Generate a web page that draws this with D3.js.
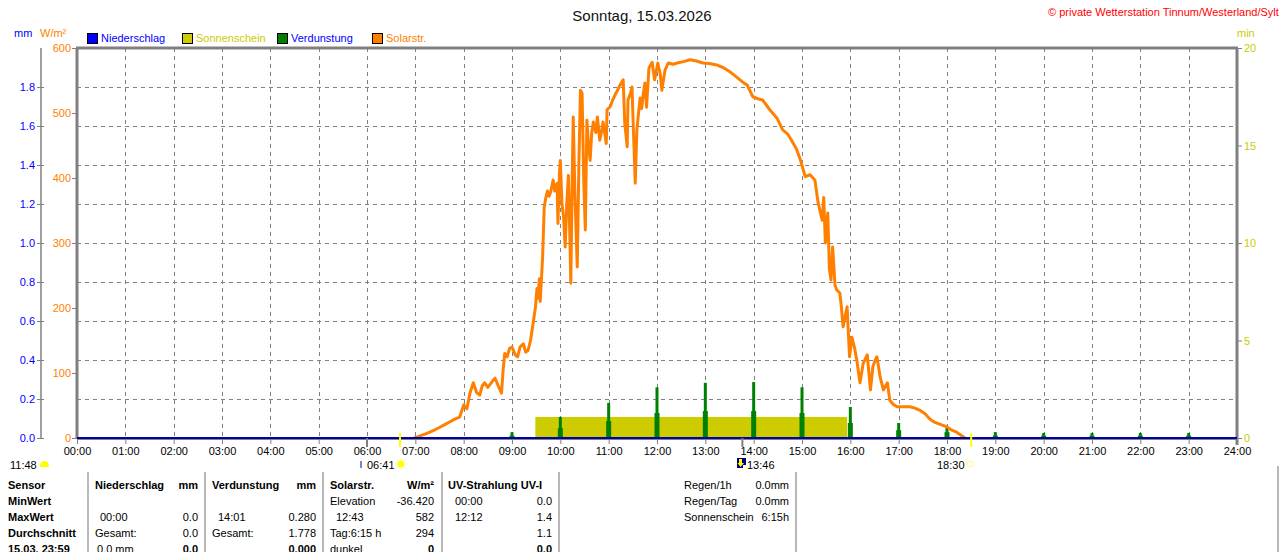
<!DOCTYPE html>
<html><head><meta charset="utf-8">
<script src="https://cdn.jsdelivr.net/npm/d3@7/dist/d3.min.js"></script>
<style>
body{margin:0;background:#fff;overflow:hidden}
svg{display:block}
text{font-family:"Liberation Sans",Arial,sans-serif;font-size:11px}
</style></head>
<body><svg id="c" width="1280" height="552"></svg>
<script>
// ---------- data ----------
const hourLabels = ["00:00","01:00","02:00","03:00","04:00","05:00","06:00","07:00","08:00","09:00","10:00","11:00","12:00","13:00","14:00","15:00","16:00","17:00","18:00","19:00","20:00","21:00","22:00","23:00","24:00"];
const mmTicks = [0,0.2,0.4,0.6,0.8,1.0,1.2,1.4,1.6,1.8];
const wTicks = [0,100,200,300,400,500,600];
const minTicks = [0,5,10,15,20];

const solarTimes = ["06:59","07:05","07:12","07:18","07:25","07:31","07:37","07:43","07:49","07:55","08:00","08:04","08:08","08:12","08:16","08:20","08:23","08:26","08:30","08:33","08:36","08:39","08:43","08:47","08:49","08:51","08:54","08:57","09:00","09:04","09:07","09:10","09:14","09:17","09:20","09:23","09:26","09:29","09:31","09:32","09:34","09:35","09:38","09:40","09:42","09:44","09:46","09:48","09:51","09:53","09:56","09:57","09:59","10:00","10:02","10:04","10:06","10:08","10:10","10:12","10:13","10:15","10:16","10:18","10:21","10:23","10:25","10:27","10:29","10:31","10:33","10:35","10:37","10:39","10:41","10:44","10:46","10:49","10:51","10:53","10:55","10:57","10:58","11:02","11:05","11:08","11:11","11:15","11:18","11:20","11:23","11:24","11:27","11:29","11:30","11:33","11:35","11:39","11:41","11:43","11:45","11:47","11:50","11:54","11:57","12:01","12:04","12:06","12:10","12:14","12:20","12:25","12:33","12:41","12:49","12:57","13:05","13:14","13:22","13:31","13:37","13:43","13:48","13:52","13:59","14:05","14:11","14:20","14:29","14:36","14:42","14:47","14:53","14:58","15:04","15:10","15:16","15:20","15:25","15:27","15:29","15:32","15:34","15:36","15:38","15:41","15:43","15:47","15:49","15:51","15:56","15:59","16:02","16:05","16:08","16:12","16:16","16:21","16:25","16:28","16:31","16:33","16:37","16:41","16:46","16:49","16:53","16:58","17:06","17:14","17:20","17:26","17:33","17:39","17:45","18:00","18:06","18:12","18:20","18:22"];
const solarValues = [0,3,6,9,13,17,21,25,29,32,51,45,70,85,70,66,80,85,78,83,88,92,80,69,105,130,125,138,140,128,125,140,145,132,135,150,175,200,230,215,245,210,278,355,370,380,372,378,397,380,392,330,410,427,361,340,294,360,404,300,238,420,494,380,263,420,535,530,400,320,489,450,427,470,486,470,494,458,470,486,470,453,505,510,520,528,535,545,551,484,448,520,530,540,500,392,474,523,507,530,546,509,569,578,551,577,560,535,566,577,575,577,579,582,580,577,576,574,570,563,557,551,546,543,525,522,520,505,492,474,468,458,445,428,402,405,397,362,335,370,300,346,260,243,294,235,228,223,200,171,202,125,155,140,120,85,115,128,74,110,120,125,94,74,85,58,52,48,48,48,46,43,37,29,24,17,12,9,2,0];

const sunFrom = ["09:29"];
const sunTo = ["15:56"];
const sunMinutes = [1.08];

const evapHours = ["09:00","10:00","11:00","12:00","13:00","14:00","15:00","16:00","17:00","18:00","19:00","20:00","21:00","22:00","23:00"];
const evapPeak = [0.03,0.108,0.18,0.26,0.283,0.287,0.26,0.159,0.077,0.056,0.03,0.026,0.026,0.026,0.026];
const evapBase = [0.012,0.05,0.087,0.128,0.138,0.138,0.128,0.077,0.04,0.03,0.012,0.012,0.012,0.012,0.012];

// ---------- helpers ----------
const hh = s => { const [h,m] = s.split(":").map(Number); return h + m/60; };
const svg = d3.select("#c");
const L = 77, R = 1237, T = 48, B = 438;
const x = d3.scaleLinear([0,24],[L,R]);
const yW = d3.scaleLinear([0,600],[B,T]);
const yMm = d3.scaleLinear([0,2],[B,T]);
const yMin = d3.scaleLinear([0,20],[B,T]);
const BLUE="#0000ff", ORANGE="#ff8000", YEL="#cccc00", GREEN="#008000", GRAY="#808080";

// ---------- title & header ----------
svg.append("text").attr("x",642).attr("y",21).attr("text-anchor","middle")
  .style("font-size","15px").attr("fill","#111").text("Sonntag, 15.03.2026");
svg.append("text").attr("x",1048).attr("y",16).attr("fill","#ff0000").style("font-size","11px")
  .text("© private Wetterstation Tinnum/Westerland/Sylt");
svg.append("text").attr("x",14).attr("y",37).attr("fill",BLUE).text("mm");
svg.append("text").attr("x",40).attr("y",37).attr("fill",ORANGE).text("W/m²");
svg.append("text").attr("x",1237).attr("y",37).attr("fill",YEL).text("min");

const legend = [["Niederschlag",BLUE,BLUE],["Sonnenschein",YEL,YEL],["Verdunstung",GREEN,BLUE],["Solarstr.",ORANGE,ORANGE]];
legend.forEach((d,i)=>{
  const lx = 87 + i*95;
  svg.append("rect").attr("x",lx+0.5).attr("y",33.5).attr("width",10).attr("height",10)
    .attr("fill",d[1]).attr("stroke","#000").attr("stroke-width",1);
  svg.append("text").attr("x",lx+14).attr("y",42).attr("fill",d[2]).text(d[0]);
});

// ---------- grid ----------
const g = svg.append("g");
g.selectAll(".hg").data(mmTicks.filter(v=>v>0)).join("line")
  .attr("x1",L).attr("x2",R).attr("y1",d=>Math.round(yMm(d))+0.5).attr("y2",d=>Math.round(yMm(d))+0.5)
  .attr("stroke",GRAY).attr("stroke-dasharray","4,4");
g.selectAll(".vg").data(d3.range(1,24)).join("line")
  .attr("x1",d=>Math.round(x(d))+0.5).attr("x2",d=>Math.round(x(d))+0.5).attr("y1",T).attr("y2",B)
  .attr("stroke",GRAY).attr("stroke-dasharray","4,4");

// ---------- sunshine ----------
svg.selectAll(".sun").data(sunFrom).join("rect")
  .attr("x",(d,i)=>x(hh(d))).attr("width",(d,i)=>x(hh(sunTo[i]))-x(hh(d)))
  .attr("y",(d,i)=>yMin(sunMinutes[i])).attr("height",(d,i)=>B-yMin(sunMinutes[i]))
  .attr("fill",YEL);

// ---------- evaporation ----------
svg.selectAll(".evb").data(evapHours).join("rect")
  .attr("x",d=>x(hh(d))-2.5).attr("width",5)
  .attr("y",(d,i)=>yMm(evapBase[i])).attr("height",(d,i)=>B-yMm(evapBase[i])).attr("fill",GREEN);
svg.selectAll(".evp").data(evapHours).join("rect")
  .attr("x",d=>x(hh(d))-1.5).attr("width",3)
  .attr("y",(d,i)=>yMm(evapPeak[i])).attr("height",(d,i)=>B-yMm(evapPeak[i])).attr("fill",GREEN);

// ---------- solar line ----------
const solar = solarTimes.map((t,i)=>[hh(t),solarValues[i]]);
svg.append("path").datum(solar)
  .attr("d",d3.line().x(d=>x(d[0])).y(d=>yW(d[1])))
  .attr("fill","none").attr("stroke",ORANGE).attr("stroke-width",3).attr("stroke-linejoin","round");

// ---------- frame ----------
svg.append("line").attr("x1",L-1).attr("x2",R+1).attr("y1",T).attr("y2",T).attr("stroke",GRAY).attr("stroke-width",3);
svg.append("line").attr("x1",L).attr("x2",L).attr("y1",T).attr("y2",B+1).attr("stroke",GRAY).attr("stroke-width",3);
svg.append("line").attr("x1",R).attr("x2",R).attr("y1",T).attr("y2",B+7).attr("stroke",GRAY).attr("stroke-width",3);
svg.append("line").attr("x1",L).attr("x2",R).attr("y1",B+1.5).attr("y2",B+1.5).attr("stroke",GRAY).attr("stroke-width",1);
svg.append("line").attr("x1",L).attr("x2",R).attr("y1",B).attr("y2",B).attr("stroke","#0000b0").attr("stroke-width",2);

// ---------- axes ----------
const styleAxis = (sel,color,tickColor)=>{
  sel.select(".domain").remove();
  sel.selectAll(".tick line").attr("stroke",tickColor);
  sel.selectAll(".tick text").attr("fill",color).style("font-size","11px").style("font-family","Liberation Sans, Arial, sans-serif");
};
// mm axis
svg.append("line").attr("x1",41).attr("x2",41).attr("y1",T).attr("y2",B).attr("stroke",GRAY).attr("stroke-width",1.5);
svg.append("g").attr("transform","translate(44,0)")
  .call(d3.axisLeft(yMm).tickValues(mmTicks).tickFormat(d3.format(".1f")).tickSize(7).tickPadding(2))
  .call(s=>styleAxis(s,BLUE,GRAY));
// W/m2 axis
svg.append("g").attr("transform",`translate(${L},0)`)
  .call(d3.axisLeft(yW).tickValues(wTicks).tickFormat(d3.format("d")).tickSize(5).tickPadding(1))
  .call(s=>styleAxis(s,ORANGE,GRAY));
// min axis
svg.append("g").attr("transform",`translate(${R},0)`)
  .call(d3.axisRight(yMin).tickValues(minTicks).tickSize(5).tickPadding(2))
  .call(s=>styleAxis(s,YEL,GRAY));
// time axis
svg.append("g").attr("transform",`translate(0,${B+1})`)
  .call(d3.axisBottom(x).tickValues(d3.range(0,25)).tickFormat(d=>hourLabels[d]).tickSize(5).tickPadding(3))
  .call(s=>styleAxis(s,"#000",GRAY));

// ---------- markers under axis ----------
const markTime = ["06:00","06:41","13:46","18:30"];
const markColor = [GRAY,"#ffff00",GRAY,"#ffff00"];
svg.selectAll(".mk").data(markTime).join("line")
  .attr("x1",d=>x(hh(d))).attr("x2",d=>x(hh(d))).attr("y1",(d,i)=>i%2?433:438).attr("y2",447)
  .attr("stroke",(d,i)=>markColor[i]).attr("stroke-width",2);

svg.append("text").attr("x",10).attr("y",469).text("11:48");
svg.append("path").attr("d","M40,467 Q40,461 44.5,461 Q49,461 49,467 Z").attr("fill","#ffff00");
svg.append("line").attr("x1",361).attr("x2",361).attr("y1",461).attr("y2",468).attr("stroke","#0000b0").attr("stroke-width",1);
svg.append("text").attr("x",367).attr("y",469).text("06:41");
const sun = svg.append("g").attr("transform","translate(401,464)");
sun.append("circle").attr("r",3.5).attr("fill","#ffff00");
d3.range(8).forEach(k=>{const a=k*Math.PI/4;sun.append("line").attr("x1",4.5*Math.cos(a)).attr("y1",4.5*Math.sin(a)).attr("x2",6*Math.cos(a)).attr("y2",6*Math.sin(a)).attr("stroke","#ffff80").attr("stroke-width",1.2);});
svg.append("rect").attr("x",737).attr("y",458).attr("width",9).attr("height",10).attr("fill","#000080");
svg.append("path").attr("d","M739,459 L742,459 L742,463 L744,463 L740.5,467 L737.5,463 L739,463 Z").attr("fill","#ffff00");
svg.append("rect").attr("x",743).attr("y",465).attr("width",3).attr("height",3).attr("fill","#fff");
svg.append("text").attr("x",747).attr("y",469).text("13:46");
svg.append("text").attr("x",937).attr("y",469).text("18:30");
svg.append("rect").attr("x",967.5).attr("y",461.5).attr("width",5).attr("height",5).attr("fill","none").attr("stroke","#ffff80");

// ---------- table ----------
[88,205,323,442,559,796,1278].forEach(sx=>{
  svg.append("line").attr("x1",sx).attr("x2",sx).attr("y1",sx===1278?466:472).attr("y2",552).attr("stroke","#a0a0a0").attr("stroke-width",1.5);
});
const rowY = [489,505,521,537,553];
const cells = [
  // [x, row, text, bold, anchor]
  [8,0,"Sensor",1],[8,1,"MinWert",1],[8,2,"MaxWert",1],[8,3,"Durchschnitt",1],[8,4,"15.03.  23:59",1],
  [95,0,"Niederschlag",1],[198,0,"mm",1,"end"],[100,2,"00:00",0],[198,2,"0.0",0,"end"],[95,3,"Gesamt:",0],[198,3,"0.0",0,"end"],[97,4,"0.0 mm",0],[198,4,"0.0",1,"end"],
  [212,0,"Verdunstung",1],[316,0,"mm",1,"end"],[218,2,"14:01",0],[316,2,"0.280",0,"end"],[212,3,"Gesamt:",0],[316,3,"1.778",0,"end"],[316,4,"0.000",1,"end"],
  [330,0,"Solarstr.",1],[434,0,"W/m²",1,"end"],[330,1,"Elevation",0],[434,1,"-36.420",0,"end"],[336,2,"12:43",0],[434,2,"582",0,"end"],[330,3,"Tag:6:15 h",0],[434,3,"294",0,"end"],[330,4,"dunkel",0],[434,4,"0",1,"end"],
  [448,0,"UV-Strahlung UV-I",1],[455,1,"00:00",0],[552,1,"0.0",0,"end"],[455,2,"12:12",0],[552,2,"1.4",0,"end"],[552,3,"1.1",0,"end"],[552,4,"0.0",1,"end"],
  [684,0,"Regen/1h",0],[789,0,"0.0mm",0,"end"],[684,1,"Regen/Tag",0],[789,1,"0.0mm",0,"end"],[684,2,"Sonnenschein",0],[789,2,"6:15h",0,"end"]
];
svg.selectAll(".cell").data(cells).join("text")
  .attr("x",d=>d[0]).attr("y",d=>rowY[d[1]]).attr("text-anchor",d=>d[4]||"start")
  .style("font-weight",d=>d[3]?"bold":"normal").attr("fill","#000").text(d=>d[2]);
</script></body></html>
